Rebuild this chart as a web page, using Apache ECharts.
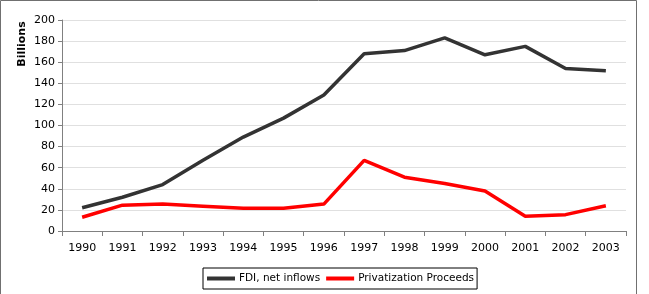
<!DOCTYPE html>
<html>
<head>
<meta charset="utf-8">
<script src="https://cdn.jsdelivr.net/npm/echarts@6/dist/echarts.min.js"></script>
<style>
  html, body { margin: 0; padding: 0; background: #fff; }
  #chart { width: 649px; height: 294px; }
</style>
</head>
<body>
<div id="chart"></div>
<script>
const years = ['1990', '1991', '1992', '1993', '1994', '1995', '1996', '1997', '1998', '1999', '2000', '2001', '2002', '2003']
const fdiInflows = [22, 32, 44, 67, 89, 107, 129, 168, 171, 183, 167, 175, 154, 152]
const privatization = [13, 24.5, 25.5, 23.5, 21.5, 21.5, 25.5, 67, 51, 45, 38, 14, 15.5, 24]

const font = 'DejaVu Sans'
const chart = echarts.init(document.getElementById('chart'))

chart.setOption({
  animation: false,
  textStyle: { fontFamily: font },
  graphic: [
    {
      type: 'rect',
      shape: { x: 0.5, y: 0.5, width: 636, height: 310 },
      style: { fill: 'none', stroke: '#707070', lineWidth: 1 },
      silent: true
    },
    // axis title sits near the top of the axis, not in the middle
    {
      type: 'text',
      x: 22,
      y: 44,
      rotation: Math.PI / 2,
      style: {
        text: 'Billions',
        font: 'bold 11px "DejaVu Sans"',
        fill: '#000',
        align: 'center',
        verticalAlign: 'middle'
      },
      silent: true
    }
  ],
  grid: { left: 62, right: 23, top: 20, bottom: 63 },
  legend: {
    left: 203,
    top: 268,
    padding: [5, 3, 5, 4],
    borderColor: '#000',
    borderWidth: 1,
    itemWidth: 28,
    itemHeight: 4,
    itemGap: 6,
    icon: 'rect',
    textStyle: { fontFamily: font, fontSize: 10.5, color: '#000', padding: [0, 0, 0, -1] },
    data: ['FDI, net inflows', 'Privatization Proceeds']
  },
  xAxis: {
    type: 'category',
    data: years,
    boundaryGap: true,
    axisLine: { lineStyle: { color: '#808080', width: 1 } },
    axisTick: { show: true, length: 5, inside: false, lineStyle: { color: '#808080' } },
    axisLabel: { color: '#000', fontSize: 11, fontFamily: font, margin: 12 }
  },
  yAxis: {
    type: 'value',
    min: 0,
    max: 200,
    interval: 20,
    axisLine: { show: true, lineStyle: { color: '#808080', width: 1 } },
    axisTick: { show: true, length: 4, lineStyle: { color: '#808080' } },
    axisLabel: { color: '#000', fontSize: 11, fontFamily: font, margin: 7 },
    splitLine: { show: true, lineStyle: { color: '#e0e0e0', width: 1 } }
  },
  series: [
    {
      name: 'FDI, net inflows',
      type: 'line',
      data: fdiInflows,
      symbol: 'none',
      color: '#333333',
      lineStyle: { color: '#333333', width: 3.5 }
    },
    {
      name: 'Privatization Proceeds',
      type: 'line',
      data: privatization,
      symbol: 'none',
      color: '#ff0000',
      lineStyle: { color: '#ff0000', width: 3.5 }
    }
  ]
})
</script>
</body>
</html>
